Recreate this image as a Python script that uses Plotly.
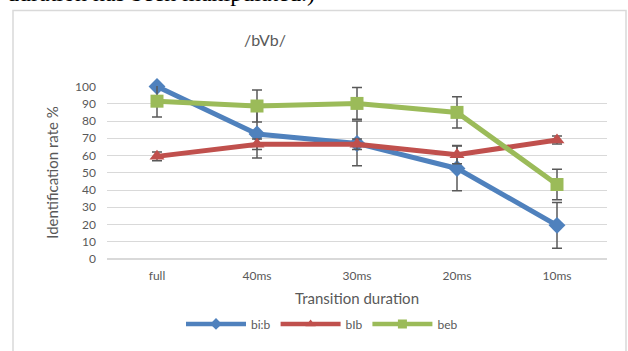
import plotly.graph_objects as go

categories = ["full", "40ms", "30ms", "20ms", "10ms"]
bib = [100, 72.5, 67, 52.5, 19.5]
bib_err = [0, 14, 13, 13, 13.3]
blb = [59.5, 66.5, 66.5, 60.5, 69]
blb_err = [2.5, 3, 3, 5.3, 2.3]
beb = [91.5, 88.7, 90.2, 85, 43.2]
beb_err = [9.2, 9.3, 9.2, 9, 8.8]
yticks = [0, 10, 20, 30, 40, 50, 60, 70, 80, 90, 100]

FONT = "Lato"
GRAY = "#595959"
ERRC = "#595959"

def series(name, y, err, color, symbol, size):
    return go.Scatter(
        x=categories, y=y, name=name, mode="lines+markers", showlegend=False,
        line=dict(color=color, width=5),
        marker=dict(symbol=symbol, size=size, color=color),
        error_y=dict(type="data", array=err, visible=True, color=ERRC,
                     thickness=1.5, width=5),
        cliponaxis=False,
    )

def legend_item(name, color, symbol):
    return go.Scatter(
        x=[None], y=[None], name=name, mode="lines+markers",
        line=dict(color=color, width=4.5),
        marker=dict(symbol=symbol, size=9, color=color),
    )

fig = go.Figure()
fig.add_trace(series("bi:b", bib, bib_err, "#4f81bd", "diamond", 13))
fig.add_trace(series("bIb", blb, blb_err, "#c0504d", "triangle-up", 13))
fig.add_trace(series("beb", beb, beb_err, "#9bbb59", "square", 13))
fig.add_trace(legend_item("bi:b", "#4f81bd", "diamond"))
fig.add_trace(legend_item("bIb", "#c0504d", "triangle-up"))
fig.add_trace(legend_item("beb", "#9bbb59", "square"))

fig.update_layout(
    width=628, height=351,
    margin=dict(l=107, r=21, t=86, b=92),
    paper_bgcolor="white", plot_bgcolor="white",
    font=dict(family=FONT, color=GRAY, size=12),
    showlegend=True,
    legend=dict(orientation="h", x=0.43, xanchor="center", y=-0.375, yanchor="middle",
                font=dict(size=12, color=GRAY), itemwidth=60, tracegroupgap=0),
    xaxis=dict(type="category", range=[-0.5, 4.5], showgrid=False, showline=False,
               ticks="", ticklabelstandoff=8, tickfont=dict(size=12, color=GRAY),
               title=dict(text="Transition duration", font=dict(size=15, color=GRAY), standoff=11)),
    yaxis=dict(range=[0, 100.3], tickvals=yticks, showgrid=True, gridcolor="#d9d9d9",
               gridwidth=1.3, zeroline=True, zerolinecolor="#d9d9d9", zerolinewidth=2,
               showline=False, ticks="", ticklabelstandoff=10,
               tickfont=dict(size=12, color=GRAY),
               title=dict(text="Identification rate %", font=dict(size=15, color=GRAY), standoff=12)),
    shapes=[dict(type="rect", xref="paper", yref="paper", x0=-0.188, x1=1.038,
                 y0=-0.6, y1=1.437, line=dict(color="#d9d9d9", width=1.5), layer="below")],
    annotations=[
        dict(text="/bVb/", xref="paper", yref="paper", x=0.316, y=1.27,
             xanchor="center", yanchor="middle", showarrow=False,
             font=dict(size=16, color=GRAY, family=FONT)),
        dict(text="duration has been manipulated.)", xref="paper", yref="paper",
             x=-0.205, y=1.453, xanchor="left", yanchor="bottom", showarrow=False,
             font=dict(size=24, color="black", family="Liberation Serif")),
    ],
)

fig.write_html("out.html", config={"displayModeBar": False},
               post_script="document.body.style.margin='0';")
